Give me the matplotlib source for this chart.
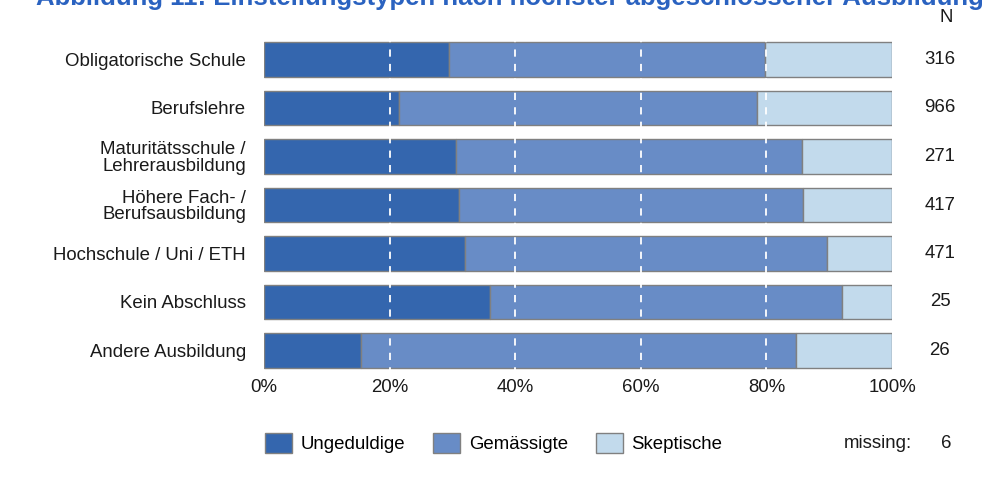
import matplotlib
matplotlib.use("Agg")
import matplotlib.pyplot as plt
from matplotlib.patches import Patch
from matplotlib.transforms import blended_transform_factory
import numpy as np

plt.rcParams['font.family'] = ['Liberation Sans', 'DejaVu Sans']

categories = [
    "Obligatorische Schule",
    "Berufslehre",
    "Maturitätsschule /\nLehrerausbildung",
    "Höhere Fach- /\nBerufsausbildung",
    "Hochschule / Uni / ETH",
    "Kein Abschluss",
    "Andere Ausbildung",
]
ungeduldige = [29.5, 21.5, 30.5, 31.0, 32.0, 36.0, 15.4]
gemaessigte = [50.3, 57.0, 55.1, 54.8, 57.6, 56.0, 69.3]
skeptische = [20.2, 21.5, 14.4, 14.2, 10.4, 8.0, 15.3]
n_values = ["316", "966", "271", "417", "471", "25", "26"]
series_names = ["Ungeduldige", "Gemässigte", "Skeptische"]
x_ticks = [0, 20, 40, 60, 80, 100]
x_tick_labels = ["0%", "20%", "40%", "60%", "80%", "100%"]
missing = 6

colors = ["#3466ae", "#688cc6", "#c2daec"]
edge = "#808080"
text_col = "#1a1a1a"
fs = 13.4

W, H = 985, 484
fig = plt.figure(figsize=(W / 100, H / 100), dpi=100)
fig.patch.set_facecolor("white")

def fx(px):
    return px / W

def fy(py):
    return 1 - py / H

ax = fig.add_axes([fx(264), fy(374.75), fx(628), 339.5 / H])
y = np.arange(len(categories))
left = np.zeros(len(categories))
for vals, col in zip([ungeduldige, gemaessigte, skeptische], colors):
    ax.barh(y, vals, left=left, height=0.72, color=col, edgecolor=edge,
            linewidth=1.0, zorder=2)
    left = left + np.array(vals)

# white dashed reference lines across the bars
for xv in x_ticks[1:-1]:
    ax.vlines(xv, -0.5, 6.5, colors="white", linestyles=(0, (4, 4)),
              linewidth=1.3, zorder=3)

ax.set_xlim(0, 100)
ax.set_ylim(6.5, -0.5)
ax.set_yticks(y)
ax.set_yticklabels(categories, fontsize=fs, color=text_col, linespacing=0.95)
ax.set_xticks(x_ticks)
ax.set_xticklabels(x_tick_labels, fontsize=fs, color=text_col)
ax.tick_params(axis="both", length=0)
ax.tick_params(axis="y", pad=13)
ax.tick_params(axis="x", pad=3)
for s in ax.spines.values():
    s.set_visible(False)

# sample sizes on the right
n_trans = blended_transform_factory(fig.transFigure, ax.transData)
for yi, n in zip(y, n_values):
    ax.text(fx(940), yi, n, transform=n_trans, ha="center", va="center",
            fontsize=fs, color=text_col)
fig.text(fx(946), fy(18), "N", ha="center", va="center", fontsize=fs,
         color=text_col)

# title, partly cut at the top edge
fig.text(fx(984), fy(5), "Abbildung 11: Einstellungstypen nach höchster "
         "abgeschlossener Ausbildung", ha="right", va="baseline",
         fontsize=18.5, fontweight="bold", color="#2a62c0")

# legend
handles = [Patch(facecolor=c, edgecolor=edge, linewidth=1.0) for c in colors]
fig.legend(handles, series_names, loc="center left",
           bbox_to_anchor=(fx(258), fy(443)), ncol=3, frameon=False,
           fontsize=fs, handlelength=1.45, handleheight=1.3,
           handletextpad=0.45, columnspacing=1.5, borderaxespad=0)
fig.text(fx(912), fy(443), "missing:", ha="right", va="center",
         fontsize=fs, color=text_col)
fig.text(fx(946), fy(443), str(missing), ha="center", va="center",
         fontsize=fs, color=text_col)

fig.savefig("out.png", dpi=100, facecolor="white")
